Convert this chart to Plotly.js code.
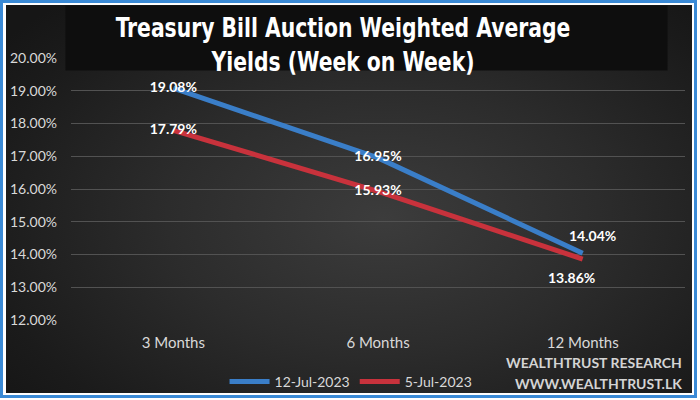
<!DOCTYPE html>
<html>
<head>
<meta charset="utf-8">
<script src="https://cdn.plot.ly/plotly-3.0.1.min.js"></script>
<style>
  html, body { margin: 0; padding: 0; background: #ffffff; }
  #frame { position: absolute; left: 0; top: 0; width: 697px; height: 398px; box-sizing: border-box; border: 3px solid #3a8ad6; background: #ffffff; }
  #bg { position: absolute; left: 6px; top: 5px; width: 686px; height: 388px;
        background: radial-gradient(ellipse 70% 75% at 55% 55%, #3c3c3c 0%, #2c2c2c 45%, #1b1b1b 85%, #161616 100%); }
  #chart { position: absolute; left: 0; top: 0; width: 700px; height: 400px; }
</style>
</head>
<body>
<div id="frame"></div>
<div id="bg"></div>
<div id="chart"></div>
<script>
const categories = ["3 Months", "6 Months", "12 Months"];
const seriesNames = ["12-Jul-2023", "5-Jul-2023"];
const yields12Jul = [19.08, 16.95, 14.04];
const yields5Jul = [17.79, 15.93, 13.86];
const yTicks = [12, 13, 14, 15, 16, 17, 18, 19, 20];
const yTickLabels = ["12.00%", "13.00%", "14.00%", "15.00%", "16.00%", "17.00%", "18.00%", "19.00%", "20.00%"];
const titleText = "Treasury Bill Auction Weighted Average<br>Yields (Week on Week)";
const watermark1 = "WEALTHTRUST RESEARCH";
const watermark2 = "WWW.WEALTHTRUST.LK";

const labelFont = { family: "Lato, 'Open Sans', sans-serif", size: 14, color: "#ffffff", weight: "bold" };
const lbl = "<b>%{y:.2f}%</b>";

const traces = [
  {
    x: categories, y: yields12Jul, name: seriesNames[0], type: "scatter", mode: "lines+text",
    line: { color: "#3a7ec8", width: 5 },
    texttemplate: [lbl, lbl, ""],
    textposition: "middle center",
    textfont: labelFont, hoverinfo: "skip", cliponaxis: false
  },
  {
    x: categories, y: yields5Jul, name: seriesNames[1], type: "scatter", mode: "lines+text",
    line: { color: "#c8323c", width: 5 },
    texttemplate: [lbl, lbl, ""],
    textposition: "middle center",
    textfont: labelFont, hoverinfo: "skip", cliponaxis: false
  }
];

const W = 700, H = 400;
const mL = 70.5, mR = 14.5, mT = 57.5, mB = 80;
const pw = W - mL - mR, ph = H - mT - mB;
const px = v => (v - mL) / pw;
const py = v => (H - mB - v) / ph;
const titleCx = 343;
const last = categories.length - 1;

const layout = {
  width: W, height: H,
  margin: { l: mL, r: mR, t: mT, b: mB, pad: 0, autoexpand: false },
  paper_bgcolor: "rgba(0,0,0,0)",
  plot_bgcolor: "rgba(0,0,0,0)",
  font: { family: "Lato, 'Open Sans', sans-serif", color: "#d9d9d9" },
  title: {
    text: titleText,
    font: { family: "'DejaVu Sans Condensed', 'Liberation Sans Narrow', sans-serif", size: 26, color: "#ffffff", weight: "bold" },
    x: titleCx / W, xref: "container", xanchor: "center",
    y: 1 - 37 / H, yref: "container", yanchor: "middle"
  },
  xaxis: {
    type: "category", range: [-0.5, 2.5],
    showgrid: false, zeroline: false, showline: false, ticks: "",
    tickfont: { size: 15, color: "#d9d9d9" },
    ticklabelstandoff: 12, fixedrange: true
  },
  yaxis: {
    range: [12, 20], tickmode: "array", tickvals: yTicks, ticktext: yTickLabels,
    showgrid: true, gridcolor: "#525252", gridwidth: 1,
    zeroline: false, showline: false, ticks: "",
    tickfont: { size: 14, color: "#d9d9d9" },
    ticklabelstandoff: 13, fixedrange: true
  },
  showlegend: true,
  legend: {
    orientation: "h", x: px(351), xanchor: "center", y: py(382), yanchor: "middle",
    font: { size: 14, color: "#d9d9d9" }, bgcolor: "rgba(0,0,0,0)", itemwidth: 40
  },
  shapes: [
    { type: "rect", xref: "paper", yref: "paper", x0: px(65), x1: px(668), y0: py(70), y1: py(5),
      fillcolor: "#0e0e0e", line: { width: 0 }, layer: "above" }
  ],
  annotations: [
    { text: "<b>" + yields12Jul[last].toFixed(2) + "%</b>", x: categories[last], y: yields12Jul[last],
      xref: "x", yref: "y", xshift: 10, yshift: 18, showarrow: false, font: labelFont },
    { text: "<b>" + yields5Jul[last].toFixed(2) + "%</b>", x: categories[last], y: yields5Jul[last],
      xref: "x", yref: "y", xshift: -11, yshift: -18, showarrow: false, font: labelFont },
    { text: "<b>" + watermark1 + "</b>", xref: "paper", yref: "paper", x: px(684), y: py(363),
      xanchor: "right", yanchor: "middle", showarrow: false, font: { size: 14, color: "#d4d4d4" } },
    { text: "<b>" + watermark2 + "</b>", xref: "paper", yref: "paper", x: px(684), y: py(384),
      xanchor: "right", yanchor: "middle", showarrow: false, font: { size: 14, color: "#d4d4d4" } }
  ]
};

Plotly.newPlot("chart", traces, layout, { displayModeBar: false, staticPlot: true }).then(function () {
  // condense the title horizontally to mimic the narrow bold face of the original
  const t = document.querySelector("#chart .gtitle");
  if (t) t.setAttribute("transform", "translate(" + titleCx + ",0) scale(0.87,1) translate(" + (-titleCx) + ",0)");
});
</script>
</body>
</html>
